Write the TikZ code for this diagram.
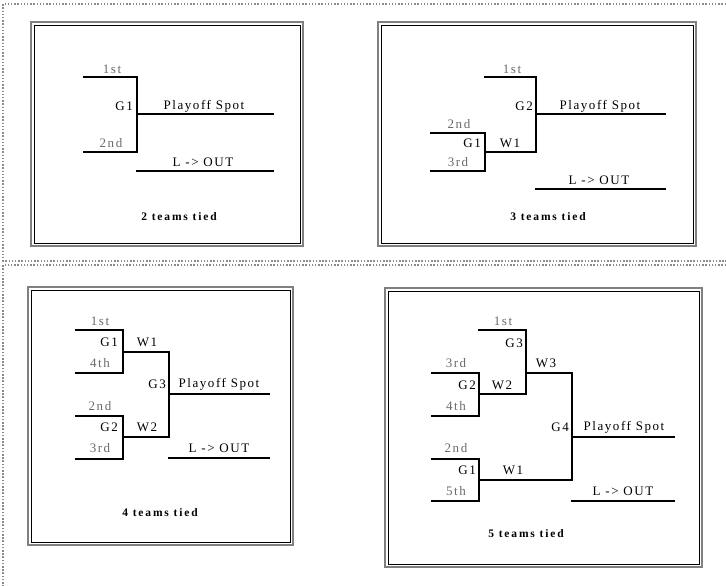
\documentclass[tikz,border=0pt]{standalone}
\usepackage{fontspec}
\setmainfont{Liberation Serif}
\newfontfamily\labfont{Liberation Serif}[LetterSpace=12]
\newfontfamily\captfont{Liberation Serif}[LetterSpace=16]
\definecolor{rankgray}{HTML}{6A6A6A}
\definecolor{framegray}{HTML}{808080}
\definecolor{dotgray}{HTML}{8A8A8A}
\begin{document}
\begin{tikzpicture}[x=1pt,y=-1pt,
  br/.style={line width=2pt,line join=miter,line cap=rect},
  lab/.style={inner sep=0pt,font=\labfont\fontsize{13}{15}\selectfont},
  rank/.style={lab,text=rankgray},
  game/.style={lab,anchor=east},
  capt/.style={inner sep=0pt,font=\captfont\bfseries\fontsize{11.5}{13}\selectfont},
  dotline/.style={dotgray,line width=1.2pt,dash pattern=on 1.5pt off 1.7pt}]
\useasboundingbox (0,0) rectangle (726,586);
% dotted outer boxes
\draw[dotline] (726,4) -- (3,4) -- (3,261) -- (726,261);
\draw[dotline] (726,265) -- (3,265) -- (3,586);
% frames
\foreach \x/\y/\X/\Y/\n in {31/22/303/246/f1,378/22/696/246/f2,28/287/293/545/f3,385/288/702/567/f4}{
  \draw[framegray,line width=2.5pt] (\x,\y) rectangle (\X,\Y);
  \draw[black,line width=0.9pt] (\x+3,\y+3) rectangle (\X-3,\Y-3);
}
% ---------- bracket 1 ----------
\coordinate (a1) at (84,77); \coordinate (b1) at (137,77);
\coordinate (c1) at (137,152); \coordinate (d1) at (84,152);
\coordinate (p1) at (137,114); \coordinate (q1) at (273,114);
\coordinate (l1) at (137,171); \coordinate (m1) at (273,171);
\draw[br] (a1) -- (b1) -- (c1) -- (d1);
\draw[br] (p1) -- (q1);
\draw[br] (l1) -- (m1);
\node[rank] (t1a) at (112,69) {1st};
\node[game] (t1g) at (133,106) {G1};
\node[lab] (t1p) at (204,106) {Playoff Spot};
\node[rank] (t1b) at (111,143) {2nd};
\node[lab] (t1l) at (203,162) {L -> OUT};
\node[capt] (t1c) at (179,217) {2 teams tied};
% ---------- bracket 2 ----------
\coordinate (a2) at (485,77); \coordinate (b2) at (536,77);
\coordinate (c2) at (536,152); \coordinate (d2) at (485,152);
\coordinate (e2) at (431,133); \coordinate (f2) at (485,133);
\coordinate (g2) at (485,171); \coordinate (h2) at (431,171);
\coordinate (p2) at (536,114); \coordinate (q2) at (665,114);
\coordinate (l2) at (536,189); \coordinate (m2) at (665,189);
\draw[br] (a2) -- (b2) -- (c2) -- (d2);
\draw[br] (e2) -- (f2) -- (g2) -- (h2);
\draw[br] (p2) -- (q2);
\draw[br] (l2) -- (m2);
\node[rank] (t2a) at (512,69) {1st};
\node[game] (t2g) at (533,106) {G2};
\node[lab] (t2p) at (600,106) {Playoff Spot};
\node[rank] (t2b) at (459,124) {2nd};
\node[game] (t2h) at (481,143) {G1};
\node[lab] (t2w) at (510,143) {W1};
\node[rank] (t2r) at (458,162) {3rd};
\node[lab] (t2l) at (599,180) {L -> OUT};
\node[capt] (t2c) at (548,217) {3 teams tied};
% ---------- bracket 3 ----------
\coordinate (a3) at (76,330); \coordinate (b3) at (123,330);
\coordinate (c3) at (123,373); \coordinate (d3) at (76,373);
\coordinate (e3) at (123,352); \coordinate (f3) at (169,352);
\coordinate (g3) at (169,437); \coordinate (h3) at (123,437);
\coordinate (i3) at (76,416); \coordinate (j3) at (123,416);
\coordinate (k3) at (123,459); \coordinate (n3) at (76,459);
\coordinate (p3) at (169,394); \coordinate (q3) at (269,394);
\coordinate (l3) at (169,458); \coordinate (m3) at (269,458);
\draw[br] (a3) -- (b3) -- (c3) -- (d3);
\draw[br] (e3) -- (f3) -- (g3) -- (h3);
\draw[br] (i3) -- (j3) -- (k3) -- (n3);
\draw[br] (p3) -- (q3);
\draw[br] (l3) -- (m3);
\node[rank] (t3a) at (100,321) {1st};
\node[game] (t3g) at (118,342) {G1};
\node[lab] (t3w) at (147,342) {W1};
\node[rank] (t3d) at (100,363) {4th};
\node[game] (t3h) at (166,384) {G3};
\node[lab] (t3p) at (219,384) {Playoff Spot};
\node[rank] (t3b) at (100,406) {2nd};
\node[game] (t3i) at (118,427) {G2};
\node[lab] (t3v) at (147,427) {W2};
\node[rank] (t3r) at (100,448) {3rd};
\node[lab] (t3l) at (219,448) {L -> OUT};
\node[capt] (t3c) at (160,513) {4 teams tied};
% ---------- bracket 4 ----------
\coordinate (a4) at (479,330); \coordinate (b4) at (526,330);
\coordinate (c4) at (526,394); \coordinate (d4) at (479,394);
\coordinate (e4) at (432,373); \coordinate (f4) at (479,373);
\coordinate (g4) at (479,416); \coordinate (h4) at (432,416);
\coordinate (i4) at (526,373); \coordinate (j4) at (572,373);
\coordinate (k4) at (572,480); \coordinate (n4) at (479,480);
\coordinate (r4) at (432,459); \coordinate (s4) at (479,459);
\coordinate (u4) at (479,501); \coordinate (v4) at (432,501);
\coordinate (p4) at (572,437); \coordinate (q4) at (674,437);
\coordinate (l4) at (572,501); \coordinate (m4) at (674,501);
\draw[br] (a4) -- (b4) -- (c4) -- (d4);
\draw[br] (e4) -- (f4) -- (g4) -- (h4);
\draw[br] (i4) -- (j4) -- (k4) -- (n4);
\draw[br] (r4) -- (s4) -- (u4) -- (v4);
\draw[br] (p4) -- (q4);
\draw[br] (l4) -- (m4);
\node[rank] (t4a) at (503,321) {1st};
\node[game] (t4g) at (523,343) {G3};
\node[rank] (t4r) at (456,363) {3rd};
\node[lab] (t4x) at (546,363) {W3};
\node[game] (t4h) at (476,385) {G2};
\node[lab] (t4w) at (502,385) {W2};
\node[rank] (t4d) at (456,406) {4th};
\node[game] (t4i) at (569,427) {G4};
\node[lab] (t4p) at (624,427) {Playoff Spot};
\node[rank] (t4b) at (456,448) {2nd};
\node[game] (t4j) at (476,470) {G1};
\node[lab] (t4v) at (513,470) {W1};
\node[rank] (t4f) at (456,491) {5th};
\node[lab] (t4l) at (623,491) {L -> OUT};
\node[capt] (t4c) at (526,534) {5 teams tied};
\end{tikzpicture}
\end{document}
